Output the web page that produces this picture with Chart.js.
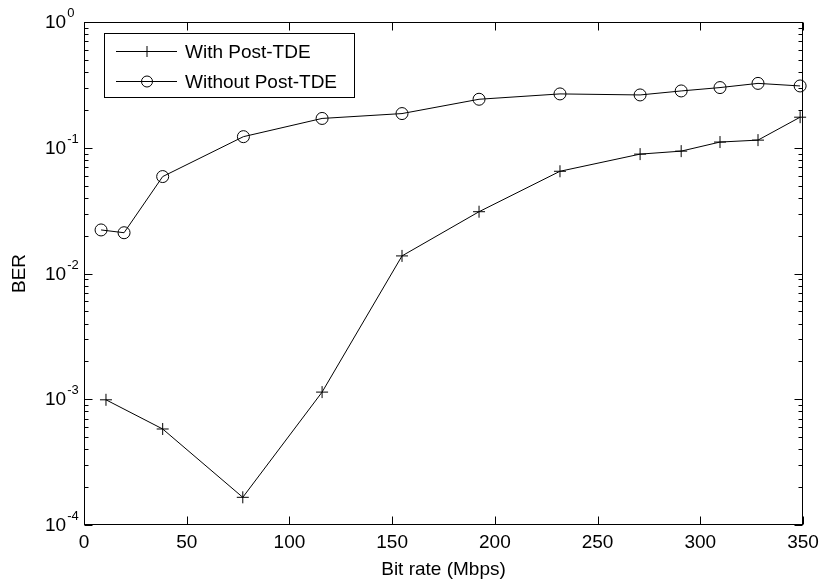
<!DOCTYPE html>
<html>
<head>
<meta charset="utf-8">
<script src="https://cdn.jsdelivr.net/npm/chart.js@4.4.1/dist/chart.umd.min.js"></script>
<style>
  body { margin: 0; background: #fff; }
</style>
</head>
<body>
<canvas id="berChart" width="820" height="583"></canvas>
<script>
// values
var rateWith = [10.7, 38.3, 77.3, 115.9, 154.8, 192.3, 231.7, 270.7, 290.7, 309.6, 328.1, 348.6];
var berWith = [0.00099, 0.00058, 0.000166, 0.00114, 0.0138, 0.031, 0.065, 0.089, 0.094, 0.111, 0.115, 0.175];

var rateWithout = [8.3, 19.5, 38.3, 77.6, 115.9, 154.8, 192.3, 231.7, 270.7, 290.7, 309.6, 328.1, 348.6];
var berWithout = [0.0222, 0.0211, 0.059, 0.1225, 0.171, 0.187, 0.243, 0.268, 0.263, 0.283, 0.301, 0.325, 0.31];

var seriesNames = ['With Post-TDE', 'Without Post-TDE'];
var xTicks = [0, 50, 100, 150, 200, 250, 300, 350];
var yExponents = [-4, -3, -2, -1, 0];

var fontName = '"Liberation Sans", Arial, sans-serif';

function toPoints(xs, ys) {
    return xs.map(function(x, i) { return { x: x, y: ys[i] }; });
}

function drawMarker(ctx, style, x, y, r) {
    ctx.beginPath();
    if (style === 'cross') {
        ctx.moveTo(x - r, y); ctx.lineTo(x + r, y);
        ctx.moveTo(x, y - r); ctx.lineTo(x, y + r);
    } else {
        ctx.arc(x, y, r, 0, Math.PI * 2);
    }
    ctx.stroke();
}

// box, inward ticks, 10^n labels and the legend, MATLAB style
var matlabAxes = {
    id: 'matlabAxes',
    afterDraw: function(chart) {
        var ctx = chart.ctx;
        var a = chart.chartArea;
        var sx = chart.scales.x, sy = chart.scales.y;
        var L = Math.round(a.left) + 0.5, R = Math.round(a.right) - 0.5;
        var T = Math.round(a.top) + 0.5, B = Math.round(a.bottom) - 0.5;

        ctx.save();
        ctx.strokeStyle = '#000';
        ctx.fillStyle = '#000';
        ctx.lineWidth = 1;
        ctx.strokeRect(L, T, R - L, B - T);

        ctx.beginPath();
        xTicks.forEach(function(v) {
            var px = Math.round(sx.getPixelForValue(v)) + 0.5;
            ctx.moveTo(px, B); ctx.lineTo(px, B - 8);
            ctx.moveTo(px, T); ctx.lineTo(px, T + 8);
        });
        yExponents.forEach(function(e, i) {
            var py = Math.round(sy.getPixelForValue(Math.pow(10, e))) + 0.5;
            ctx.moveTo(L, py); ctx.lineTo(L + 8, py);
            ctx.moveTo(R, py); ctx.lineTo(R - 8, py);
            if (i < yExponents.length - 1) {
                for (var m = 2; m <= 9; m++) {
                    var pm = Math.round(sy.getPixelForValue(m * Math.pow(10, e))) + 0.5;
                    ctx.moveTo(L, pm); ctx.lineTo(L + 4, pm);
                    ctx.moveTo(R, pm); ctx.lineTo(R - 4, pm);
                }
            }
        });
        ctx.stroke();

        // y tick labels 10^n
        yExponents.forEach(function(e) {
            var py = sy.getPixelForValue(Math.pow(10, e));
            ctx.font = '19px ' + fontName;
            ctx.textAlign = 'left';
            ctx.textBaseline = 'middle';
            ctx.fillText('10', 45, py + 1);
            var w = ctx.measureText('10').width;
            ctx.font = '13px ' + fontName;
            ctx.textBaseline = 'alphabetic';
            ctx.fillText(String(e), 45 + w + 1, py - 5);
        });

        // legend
        var bx = 104.5, by = 33.5, bw = 250, bh = 64;
        ctx.fillStyle = '#fff';
        ctx.fillRect(bx, by, bw, bh);
        ctx.strokeRect(bx, by, bw, bh);
        ctx.fillStyle = '#000';
        ctx.font = '19px ' + fontName;
        ctx.textBaseline = 'middle';
        chart.data.datasets.forEach(function(ds, i) {
            var ly = Math.round(by + 17 + i * 30) + 0.5;
            ctx.beginPath();
            ctx.moveTo(116, ly); ctx.lineTo(177, ly);
            ctx.stroke();
            drawMarker(ctx, ds.pointStyle, 147, ly, 5.5);
            ctx.fillText(ds.label, 185, ly + 1);
        });
        ctx.restore();
    }
};

var chart = new Chart(document.getElementById('berChart').getContext('2d'), {
    type: 'line',
    data: {
        datasets: [
            {
                label: seriesNames[0],
                data: toPoints(rateWith, berWith),
                borderColor: '#000',
                borderWidth: 1,
                pointStyle: 'cross',
                pointRadius: 6,
                pointBorderWidth: 1,
                pointBorderColor: '#000',
                pointBackgroundColor: 'rgba(0,0,0,0)',
                tension: 0,
                clip: false
            },
            {
                label: seriesNames[1],
                data: toPoints(rateWithout, berWithout),
                borderColor: '#000',
                borderWidth: 1,
                pointStyle: 'circle',
                pointRadius: 6,
                pointBorderWidth: 1,
                pointBorderColor: '#000',
                pointBackgroundColor: 'rgba(0,0,0,0)',
                tension: 0,
                clip: false
            }
        ]
    },
    options: {
        responsive: false,
        animation: false,
        layout: { padding: { left: 0, top: 22, right: 17, bottom: 0 } },
        plugins: {
            legend: { display: false },
            tooltip: { enabled: false }
        },
        scales: {
            x: {
                type: 'linear',
                min: 0,
                max: 350,
                afterBuildTicks: function(s) { s.ticks = xTicks.map(function(v) { return { value: v }; }); },
                afterFit: function(s) { s.height = 58; s.paddingLeft = 0; s.paddingRight = 0; },
                grid: { display: false, drawTicks: false },
                border: { display: false },
                ticks: { color: '#000', font: { family: fontName, size: 19 }, padding: 6, maxRotation: 0 },
                title: {
                    display: true,
                    text: 'Bit rate (Mbps)',
                    color: '#000',
                    font: { family: fontName, size: 19 },
                    padding: { top: 0, bottom: 2 }
                }
            },
            y: {
                type: 'logarithmic',
                min: 0.0001,
                max: 1,
                afterFit: function(s) { s.width = 84; s.paddingTop = 0; s.paddingBottom = 0; },
                grid: { display: false, drawTicks: false },
                border: { display: false },
                ticks: { display: false },
                title: {
                    display: true,
                    text: 'BER',
                    color: '#000',
                    font: { family: fontName, size: 19 },
                    padding: { top: 8, bottom: 0 }
                }
            }
        }
    },
    plugins: [matlabAxes]
});
</script>
